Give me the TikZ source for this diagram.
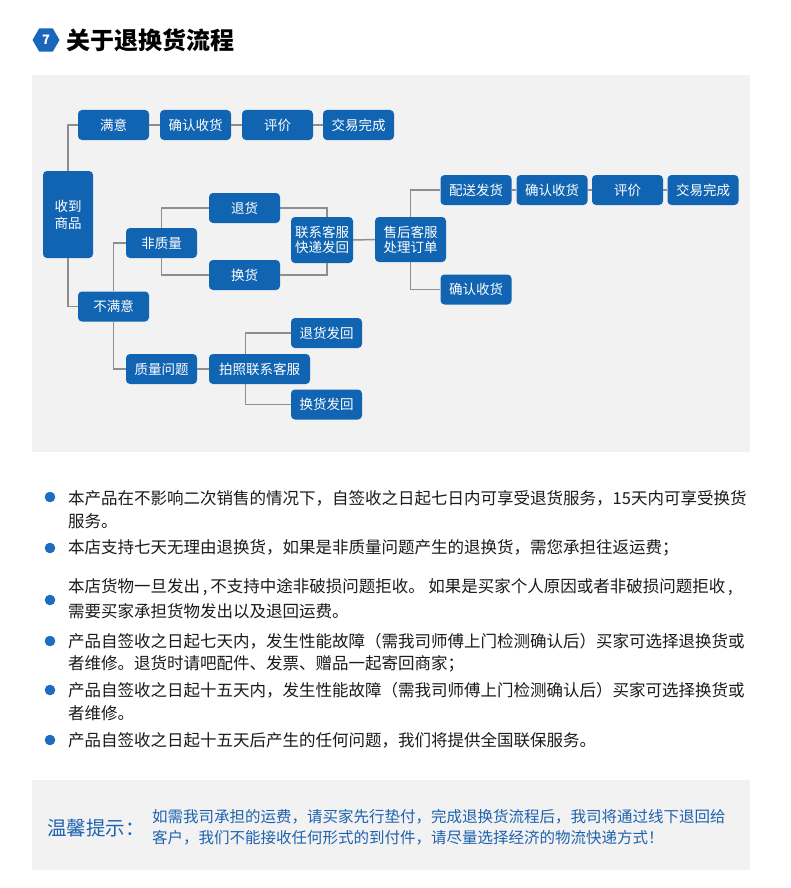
\documentclass[tikz,border=0pt]{standalone}
\usepackage{fontspec}
\setmainfont{Noto Sans CJK SC}
\usepackage{tikz}
\usetikzlibrary{shapes.geometric}
\definecolor{boxblue}{HTML}{1064B2}
\definecolor{hexblue}{HTML}{1A66BA}
\definecolor{dotblue}{HTML}{1C6CC0}
\definecolor{tipblue}{HTML}{1F62AE}
\definecolor{panelgray}{HTML}{F2F2F2}
\definecolor{linkgray}{HTML}{8E8E8E}
\definecolor{textblack}{HTML}{1A1A1A}
\newcommand{\noteline}[3]{%
  \node[notetext] (#1) at (68,#2) {#3};
}
\newcommand{\notedot}[1]{%
  \fill[dotblue] (50,#1) circle (5.3);
}
\tikzset{
  flowbox/.style={fill=boxblue,text=white,rounded corners=4pt,inner sep=0pt,
    minimum width=71,minimum height=30,align=center,
    font=\fontsize{13.5}{15}\selectfont},
  link/.style={linkgray,line width=1.5pt},
  notetext/.style={anchor=west,inner sep=0pt,text=textblack,
    font=\fontsize{16.5}{20}\selectfont}
}

\begin{document}
\begin{tikzpicture}[x=1pt,y=-1pt]
    \useasboundingbox (0,0) rectangle (790,888);
    \fill[white] (0,0) rectangle (790,888);
    \node[regular polygon,regular polygon sides=6,fill=hexblue,minimum size=27,inner sep=0pt,
      text=white,font=\fontsize{13}{13}\selectfont\bfseries] (hex) at (46,40) {7};
    \node[anchor=west,inner sep=0pt,text=black,font=\fontsize{24}{24}\selectfont\bfseries] (title) at (66,40) {关于退换货流程};
    \fill[panelgray] (32,75) rectangle (750,452);
    \node[flowbox] (sat) at (113.5,125) {满意};
    \node[flowbox] (conf1) at (195.5,125) {确认收货};
    \node[flowbox] (rate1) at (277.5,125) {评价};
    \node[flowbox] (done1) at (358.5,125) {交易完成};
    \node[flowbox,minimum width=50,minimum height=87,font=\fontsize{13.5}{17}\selectfont] (recv) at (68,214.5) {收到\\商品};
    \node[flowbox] (nonq) at (161.5,243) {非质量};
    \node[flowbox] (ret) at (244.5,208) {退货};
    \node[flowbox] (exch) at (244.5,275) {换货};
    \node[flowbox,minimum width=62,minimum height=46] (cont) at (322,240) {联系客服\\快递发回};
    \node[flowbox,minimum height=45] (svc) at (410.5,239.5) {售后客服\\处理订单};
    \node[flowbox] (ship) at (476,190) {配送发货};
    \node[flowbox] (conf2) at (552,190) {确认收货};
    \node[flowbox] (rate2) at (627.5,190) {评价};
    \node[flowbox] (done2) at (703,190) {交易完成};
    \node[flowbox] (conf3) at (476,289.5) {确认收货};
    \node[flowbox] (unsat) at (113.5,306.5) {不满意};
    \node[flowbox] (qual) at (161.5,369) {质量问题};
    \node[flowbox,minimum width=101] (photo) at (259.5,369) {拍照联系客服};
    \node[flowbox] (backA) at (326.5,333) {退货发回};
    \node[flowbox] (backB) at (326.5,404.5) {换货发回};
    \draw[link] (recv.north) |- (sat.west);
    \draw[link] (recv.south) |- (unsat.west);
    \draw[link] (sat.east) -- (conf1.west);
    \draw[link] (conf1.east) -- (rate1.west);
    \draw[link] (rate1.east) -- (done1.west);
    \draw[link] (unsat.north) |- (nonq.west);
    \draw[link] (unsat.south) |- (qual.west);
    \draw[link] (nonq.north) |- (ret.west);
    \draw[link] (nonq.south) |- (exch.west);
    \draw[link] (ret.east) -| ([xshift=5]cont.north);
    \draw[link] (exch.east) -| ([xshift=5]cont.south);
    \draw[link] (cont.east) -- (svc.west);
    \draw[link] (svc.north) |- (ship.west);
    \draw[link] (svc.south) |- (conf3.west);
    \draw[link] (ship.east) -- (conf2.west);
    \draw[link] (conf2.east) -- (rate2.west);
    \draw[link] (rate2.east) -- (done2.west);
    \draw[link] (qual.east) -- (photo.west);
    \draw[link] ([xshift=-14]photo.north) |- (backA.west);
    \draw[link] ([xshift=-14]photo.south) |- (backB.west);
    \notedot{497}
    \noteline{n1a}{498}{本产品在不影响二次销售的情况下，自签收之日起七日内可享受退货服务，15天内可享受换货}
    \noteline{n1b}{521}{服务。}
    \notedot{548}
    \noteline{n2a}{548}{本店支持七天无理由退换货，如果是非质量问题产生的退换货，需您承担往返运费；}
    \notedot{600}
    \noteline{n3a}{587}{本店货物一旦发出\,,\,不支持中途非破损问题拒收。 如果是买家个人原因或者非破损问题拒收\,,}
    \noteline{n3b}{611}{需要买家承担货物发出以及退回运费。}
    \notedot{641}
    \noteline{n4a}{641}{产品自签收之日起七天内，发生性能故障（需我司师傅上门检测确认后）买家可选择退换货或}
    \noteline{n4b}{664}{者维修。退货时请吧配件、发票、赠品一起寄回商家；}
    \notedot{690}
    \noteline{n5a}{690}{产品自签收之日起十五天内，发生性能故障（需我司师傅上门检测确认后）买家可选择换货或}
    \noteline{n5b}{713}{者维修。}
    \notedot{740}
    \noteline{n6a}{740}{产品自签收之日起十五天后产生的任何问题，我们将提供全国联保服务。}
    \fill[panelgray] (32,780) rectangle (750,870);
    \node[anchor=west,inner sep=0pt,text=tipblue,font=\fontsize{19.5}{20}\selectfont] (tiphead) at (47,828) {温馨提示：};
    \node[anchor=west,inner sep=0pt,text=tipblue,font=\fontsize{15.5}{16}\selectfont] (tipa) at (152,817) {如需我司承担的运费，请买家先行垫付，完成退换货流程后，我司将通过线下退回给};
    \node[anchor=west,inner sep=0pt,text=tipblue,font=\fontsize{15.5}{16}\selectfont] (tipb) at (152,838) {客户，我们不能接收任何形式的到付件，请尽量选择经济的物流快递方式！};
  \end{tikzpicture}
\end{document}
